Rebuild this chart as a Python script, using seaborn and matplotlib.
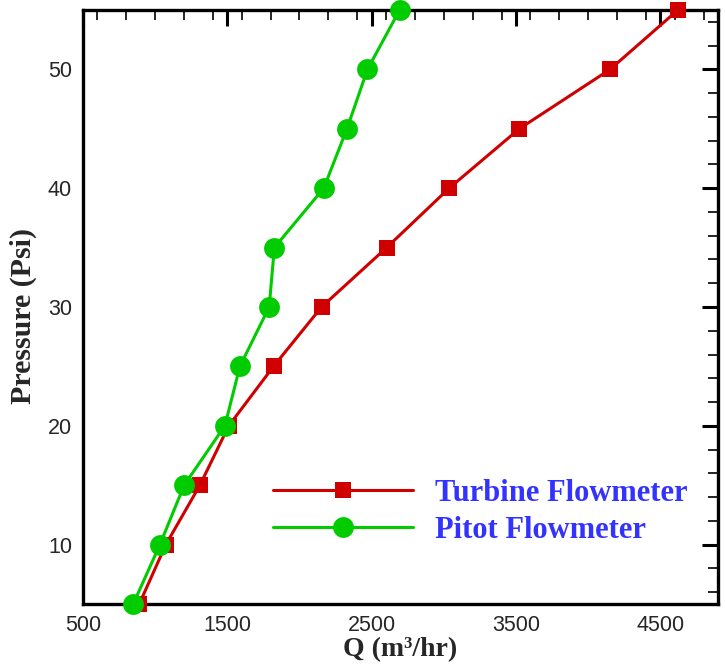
import matplotlib
matplotlib.use("Agg")
import matplotlib.pyplot as plt
import seaborn as sns
import pandas as pd
from matplotlib.ticker import MultipleLocator

pressure = [5, 10, 15, 20, 25, 30, 35, 40, 45, 50, 55]
turbine_q = [890, 1074, 1310, 1510, 1820, 2153, 2604, 3037, 3523, 4152, 4622]
pitot_q = [848, 1033, 1201, 1483, 1587, 1790, 1826, 2168, 2329, 2471, 2694]
series_names = ["Turbine Flowmeter", "Pitot Flowmeter"]
x_ticks = [500, 1500, 2500, 3500, 4500]
y_ticks = [10, 20, 30, 40, 50]

sns.set_style("white")
plt.rcParams["font.family"] = ["Liberation Sans", "DejaVu Sans"]

df_t = pd.DataFrame({"Q": turbine_q, "P": pressure})
df_p = pd.DataFrame({"Q": pitot_q, "P": pressure})

fig = plt.figure(figsize=(7.25, 6.64), dpi=100)
ax = fig.add_axes([83 / 725, (664 - 604) / 664, (718 - 83) / 725, (604 - 10) / 664])

sns.lineplot(data=df_t, x="Q", y="P", sort=False, ax=ax, color="#D00000",
             linewidth=2.2, marker="s", markersize=11.5, markeredgewidth=0,
             label=series_names[0], clip_on=False, zorder=3)
sns.lineplot(data=df_p, x="Q", y="P", sort=False, ax=ax, color="#00CC00",
             linewidth=2.2, marker="o", markersize=15, markeredgewidth=0,
             label=series_names[1], clip_on=False, zorder=4)

ax.set_xlim(500, 4900)
ax.set_ylim(5, 55)
ax.set_xticks(x_ticks)
ax.set_yticks(y_ticks)
ax.xaxis.set_minor_locator(MultipleLocator(200))
ax.yaxis.set_minor_locator(MultipleLocator(2))
ax.tick_params(which="both", direction="in", top=True, right=True, color="black")
ax.tick_params(which="major", length=11.5, width=2.2, labelsize=15.5, pad=8)
ax.tick_params(which="minor", length=7, width=1.2)
for sp in ax.spines.values():
    sp.set_linewidth(2.4)
    sp.set_color("black")

serif = ["Liberation Serif", "DejaVu Serif"]
ax.set_xlabel("Q (m³/hr)", fontsize=20, fontweight="bold", family=serif, labelpad=1)
ax.set_ylabel("Pressure (Psi)", fontsize=21.5, fontweight="bold", family=serif)
ax.yaxis.set_label_coords(-0.072, 0.485)

leg = ax.legend(loc="upper left", bbox_to_anchor=(0.299, 0.2104), frameon=False,
                handlelength=4.6, handletextpad=0.72, labelspacing=0.25,
                borderpad=0, borderaxespad=0,
                prop={"family": serif, "weight": "bold", "size": 22})
for t in leg.get_texts():
    t.set_color("#3333FF")

fig.savefig("out.png", dpi=100)
